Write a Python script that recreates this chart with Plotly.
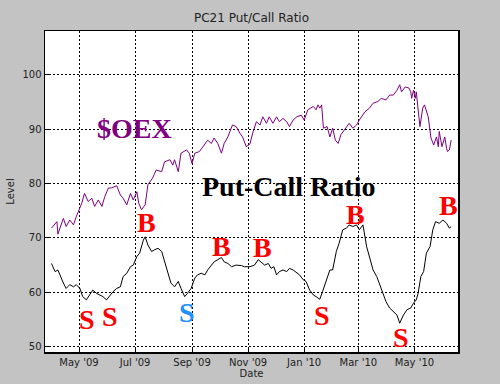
import plotly.graph_objects as go

# ---- data ----
oex_dates = ["2009-04-01","2009-04-07","2009-04-08","2009-04-14","2009-04-17","2009-04-21","2009-04-25","2009-04-28",
             "2009-05-04","2009-05-07","2009-05-11","2009-05-15","2009-05-18","2009-05-22","2009-05-26","2009-05-29",
             "2009-06-02","2009-06-05","2009-06-11","2009-06-15","2009-06-18","2009-06-22","2009-06-26","2009-06-29",
             "2009-07-03","2009-07-05","2009-07-08","2009-07-12","2009-07-15","2009-07-20","2009-07-24","2009-07-30",
             "2009-08-02","2009-08-08","2009-08-11","2009-08-13","2009-08-17","2009-08-20","2009-08-26","2009-08-29",
             "2009-09-01","2009-09-04","2009-09-09","2009-09-13","2009-09-18","2009-09-22","2009-09-25","2009-09-29",
             "2009-10-03","2009-10-06","2009-10-10","2009-10-15","2009-10-19","2009-10-23","2009-10-26","2009-10-30",
             "2009-11-03","2009-11-06","2009-11-09","2009-11-10","2009-11-14","2009-11-17","2009-11-21","2009-11-24",
             "2009-11-28","2009-12-02","2009-12-05","2009-12-09","2009-12-13","2009-12-16","2009-12-20","2009-12-24",
             "2009-12-29","2010-01-01","2010-01-05","2010-01-11","2010-01-14","2010-01-16","2010-01-18","2010-01-20",
             "2010-01-22","2010-01-26","2010-01-29","2010-02-01","2010-02-04","2010-02-07","2010-02-10","2010-02-16",
             "2010-02-19","2010-02-23","2010-02-27","2010-03-02","2010-03-08","2010-03-13","2010-03-17","2010-03-22",
             "2010-03-26","2010-03-31","2010-04-04","2010-04-08","2010-04-12","2010-04-15","2010-04-17","2010-04-21",
             "2010-04-25","2010-04-27","2010-04-28","2010-04-30","2010-05-02","2010-05-03","2010-05-07","2010-05-10",
             "2010-05-12","2010-05-16","2010-05-19","2010-05-22","2010-05-25","2010-05-27","2010-05-28","2010-05-31",
             "2010-06-03","2010-06-05","2010-06-06","2010-06-08","2010-06-10"]
oex_values = [71.8,73.0,70.7,73.6,72.1,73.3,72.4,73.9,
              76.4,78.2,76.7,77.3,75.8,77.0,75.8,77.6,
              79.2,79.2,79.6,77.9,77.3,76.1,78.2,77.0,
              78.5,76.4,75.2,76.1,79.8,81.0,82.5,82.2,
              84.0,84.4,83.4,84.4,82.2,85.6,86.2,85.6,
              83.7,85.6,85.9,86.8,88.0,87.4,88.4,87.4,
              85.6,87.4,88.6,90.8,90.5,89.3,88.6,86.8,
              87.3,89.3,90.8,91.4,90.8,92.3,91.1,92.3,
              91.1,92.3,91.4,92.0,91.4,90.5,91.7,92.3,
              92.6,91.7,93.6,94.2,93.6,94.5,93.9,94.5,
              90.2,90.5,88.6,90.2,88.0,87.4,89.0,90.5,
              91.1,90.2,90.8,91.7,93.2,93.9,94.8,95.1,
              95.7,95.4,96.3,96.3,97.2,98.2,96.9,97.8,
              97.6,96.9,95.7,97.2,95.7,96.9,90.5,93.9,
              94.5,92.3,88.4,87.1,88.6,86.8,89.6,86.8,
              88.6,86.5,85.9,86.2,88.0]

pcr_dates = ["2009-04-01","2009-04-05","2009-04-08","2009-04-10","2009-04-14","2009-04-17","2009-04-21","2009-04-25",
             "2009-04-28","2009-05-02","2009-05-05","2009-05-09","2009-05-13","2009-05-16","2009-05-20","2009-05-24",
             "2009-05-27","2009-05-31","2009-06-04","2009-06-07","2009-06-11","2009-06-15","2009-06-18","2009-06-22",
             "2009-06-26","2009-06-29","2009-07-03","2009-07-06","2009-07-10","2009-07-12","2009-07-15","2009-07-19",
             "2009-07-22","2009-07-26","2009-07-30","2009-08-02","2009-08-06","2009-08-09","2009-08-13","2009-08-17",
             "2009-08-20","2009-08-24","2009-08-27","2009-08-31","2009-09-04","2009-09-07","2009-09-11","2009-09-15",
             "2009-09-18","2009-09-22","2009-09-25","2009-09-29","2009-10-03","2009-10-06","2009-10-10","2009-10-14",
             "2009-10-19","2009-10-25","2009-10-28","2009-11-03","2009-11-08","2009-11-12","2009-11-15","2009-11-19",
             "2009-11-23","2009-11-26","2009-11-29","2009-12-02","2009-12-05","2009-12-09","2009-12-13","2009-12-16",
             "2009-12-20","2009-12-24","2009-12-27","2009-12-31","2010-01-03","2010-01-07","2010-01-11","2010-01-14",
             "2010-01-18","2010-01-21","2010-01-25","2010-01-29","2010-02-01","2010-02-05","2010-02-08","2010-02-12",
             "2010-02-16","2010-02-19","2010-02-23","2010-02-27","2010-03-02","2010-03-06","2010-03-10","2010-03-13",
             "2010-03-17","2010-03-21","2010-03-24","2010-03-28","2010-03-31","2010-04-04","2010-04-08","2010-04-12",
             "2010-04-15","2010-04-19","2010-04-23","2010-04-27","2010-04-30","2010-05-03","2010-05-05","2010-05-08",
             "2010-05-11","2010-05-14","2010-05-18","2010-05-21","2010-05-24","2010-05-28","2010-06-01","2010-06-05",
             "2010-06-08","2010-06-10"]
pcr_values = [65.3,63.8,64.1,63.2,61.7,60.7,61.4,61.0,
              61.4,60.7,59.2,58.6,59.5,60.4,59.8,59.5,
              59.2,58.6,59.5,60.1,60.7,61.0,62.9,63.5,
              64.7,65.0,66.6,67.2,69.6,70.2,68.7,67.5,
              67.8,68.1,67.5,65.6,63.5,61.7,61.0,62.0,
              60.7,59.2,59.8,60.7,62.6,63.2,63.5,63.2,
              64.1,65.0,65.6,66.0,66.4,65.6,65.3,64.7,
              65.0,64.9,64.7,64.7,65.0,66.0,65.6,65.0,
              65.3,64.4,64.7,63.2,63.8,64.1,63.8,64.4,
              64.1,63.5,63.2,62.3,62.0,60.4,59.5,59.2,
              58.7,60.1,62.0,64.1,64.1,67.5,69.0,71.5,
              71.8,72.4,72.1,72.4,71.5,72.4,68.4,66.6,
              64.1,62.9,61.4,59.5,58.3,57.1,56.4,55.8,
              54.3,55.8,56.8,57.1,58.0,58.6,59.8,62.9,
              63.8,67.2,68.4,71.5,73.0,72.7,73.3,72.7,
              71.8,72.1]

signal_labels = ["S","S","B","S","B","B","S","B","S","B"]
signal_dates = ["2009-05-10","2009-06-04","2009-07-13","2009-08-26","2009-10-03",
                "2009-11-17","2010-01-20","2010-02-26","2010-04-16","2010-06-07"]
signal_levels = [54.9,55.5,72.8,56.2,68.5,68.2,55.7,74.4,51.6,75.9]
signal_colors = ["#ff0000","#ff0000","#ff0000","#1e90ff","#ff0000",
                 "#ff0000","#ff0000","#ff0000","#ff0000","#ff0000"]

tick_dates = ["2009-05-01","2009-07-01","2009-09-01","2009-11-01","2010-01-01","2010-03-01","2010-05-01"]
tick_labels = ["May '09","Jul '09","Sep '09","Nov '09","Jan '10","Mar '10","May '10"]
y_ticks = [50, 60, 70, 80, 90, 100]

fig = go.Figure()
fig.add_trace(go.Scatter(x=oex_dates, y=oex_values, mode="lines",
                         line=dict(color="#800080", width=1), hoverinfo="skip"))
fig.add_trace(go.Scatter(x=pcr_dates, y=pcr_values, mode="lines",
                         line=dict(color="#000000", width=1), hoverinfo="skip"))

for lab, d, v, c in zip(signal_labels, signal_dates, signal_levels, signal_colors):
    fig.add_annotation(x=d, y=v, text=lab, showarrow=False,
                       font=dict(family="Liberation Serif", size=28, color=c, weight="bold"),
                       xanchor="center", yanchor="middle")

fig.add_annotation(x="2009-06-30", y=90.2, text="$OEX", showarrow=False,
                   font=dict(family="Liberation Serif", size=28, color="#800080", weight="bold"))
fig.add_annotation(x="2009-12-15", y=79.4, text="Put-Call Ratio", showarrow=False,
                   font=dict(family="Liberation Serif", size=28, color="#000000", weight="bold"))

axis_common = dict(showgrid=True, gridcolor="#000000", gridwidth=1, griddash="2px,2px",
                   showline=True, linecolor="#000000", linewidth=1.5, mirror=True,
                   ticks="inside", ticklen=4, tickcolor="#000000", zeroline=False,
                   automargin=False,
                   tickfont=dict(family="DejaVu Sans", size=10, color="#222222"))

fig.update_layout(
    width=500, height=384,
    margin=dict(l=45, r=42, t=31, b=32),
    paper_bgcolor="#c3c3c3", plot_bgcolor="#ffffff",
    showlegend=False,
    title=dict(text="PC21 Put/Call Ratio", x=0.503, xanchor="center", y=1 - 18/384, yanchor="middle",
               yref="container", font=dict(family="DejaVu Sans", size=12, color="#222222")),
    xaxis=dict(range=["2009-03-25", "2010-06-17 10:00"], tickvals=tick_dates, ticktext=tick_labels,
               title=dict(text="Date", standoff=2, font=dict(family="DejaVu Sans", size=10, color="#222222")),
               **axis_common),
    yaxis=dict(range=[49.0, 108.1], tickvals=y_ticks,
               title=dict(text="Level", standoff=6, font=dict(family="DejaVu Sans", size=10, color="#222222")),
               **axis_common),
)

fig.write_html("out.html",
               config={"displayModeBar": False, "staticPlot": True},
               post_script="document.body.style.margin='0';document.body.style.padding='0';"
                           "document.body.style.overflow='hidden';")
